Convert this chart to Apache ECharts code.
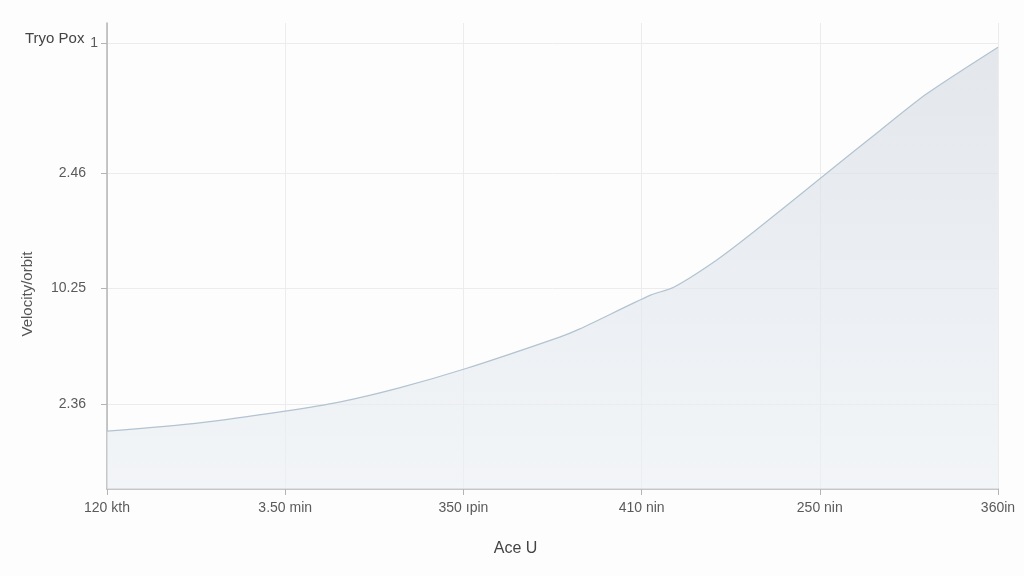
<!DOCTYPE html>
<html>
<head>
<meta charset="utf-8">
<script src="https://cdn.jsdelivr.net/npm/echarts@6/dist/echarts.min.js"></script>
<style>
html,body{margin:0;padding:0;background:#fdfdfd;}
#c{width:1024px;height:576px;}
</style>
</head>
<body>
<div id="c"></div>
<script>
// Tick labels
var xTickLabels = ['120 kth', '3.50 min', '350 \u0131pin', '410 nin', '250 nin', '360in'];
var yTickValues = [18.2, 43.1, 67.8, 95.7];
var yTickLabels = ['2.36', '10.25', '2.46', '1'];
// Series values (x position in tick units, y value)
var seriesX = [0.0, 0.52, 1.0, 1.31, 1.64, 2.01, 2.54, 2.65, 3.05, 3.18, 3.42, 3.63, 4.04, 4.34, 4.60, 5.0];
var seriesY = [12.4, 14.2, 16.7, 18.7, 21.7, 25.8, 32.6, 34.3, 41.6, 43.3, 49.1, 55.2, 67.8, 77.0, 84.8, 94.8];

var points = seriesX.map(function (x, i) { return [x, seriesY[i]]; });

var chart = echarts.init(document.getElementById('c'));
var axisColor = '#b4b4b4';
var gridColor = '#ececec';
var labelColor = '#5a5a5a';
var fontFamily = 'Liberation Sans, Arial, sans-serif';

chart.setOption({
  backgroundColor: '#fdfdfd',
  animation: false,
  title: {
    text: 'Tryo Pox',
    left: 20,
    top: 26,
    textStyle: { fontSize: 15, fontWeight: 'normal', color: '#444', fontFamily: fontFamily }
  },
  grid: { left: 107, right: 26, top: 23, bottom: 87 },
  xAxis: {
    type: 'value',
    min: 0,
    max: 5,
    interval: 1,
    name: 'Ace U',
    nameLocation: 'middle',
    nameGap: 52,
    nameTextStyle: { fontSize: 16, color: '#444', fontFamily: fontFamily, padding: [0, 74, 0, 0] },
    axisLine: { lineStyle: { color: axisColor, width: 1.5 } },
    axisTick: { show: true, length: 6, lineStyle: { color: axisColor } },
    axisLabel: {
      color: labelColor, fontSize: 14, margin: 12, fontFamily: fontFamily,
      formatter: function (v) { return xTickLabels[Math.round(v)] || ''; }
    },
    splitLine: { show: true, lineStyle: { color: gridColor, width: 1 } }
  },
  yAxis: {
    type: 'value',
    min: 0,
    max: 100,
    name: 'Velocity/orbit',
    nameLocation: 'middle',
    nameGap: 72,
    nameRotate: 90,
    nameTextStyle: { fontSize: 15, color: '#555', fontFamily: fontFamily, padding: [0, 76, 0, 0] },
    axisLine: { show: true, lineStyle: { color: axisColor, width: 1.5 } },
    axisTick: { show: true, length: 6, lineStyle: { color: axisColor }, customValues: yTickValues },
    axisLabel: {
      color: labelColor, fontSize: 14, margin: 9, fontFamily: fontFamily,
      customValues: yTickValues,
      formatter: function (v) {
        var i = yTickValues.indexOf(v);
        if (i < 0) return '';
        return i === yTickValues.length - 1 ? yTickLabels[i] : '{f|' + yTickLabels[i] + '}';
      },
      rich: {
        f: { color: labelColor, fontSize: 14, fontFamily: fontFamily, padding: [0, 12, 0, 0] }
      }
    },
    splitLine: { show: true, lineStyle: { color: gridColor, width: 1 } }
  },
  series: [{
    type: 'line',
    data: points,
    smooth: 0.25,
    symbol: 'none',
    lineStyle: { color: '#b2c3d1', width: 1.2 },
    areaStyle: {
      color: new echarts.graphic.LinearGradient(0, 0, 0, 1, [
        { offset: 0, color: 'rgba(214,219,227,0.95)' },
        { offset: 1, color: 'rgba(236,240,245,0.9)' }
      ])
    }
  }]
});
</script>
</body>
</html>
